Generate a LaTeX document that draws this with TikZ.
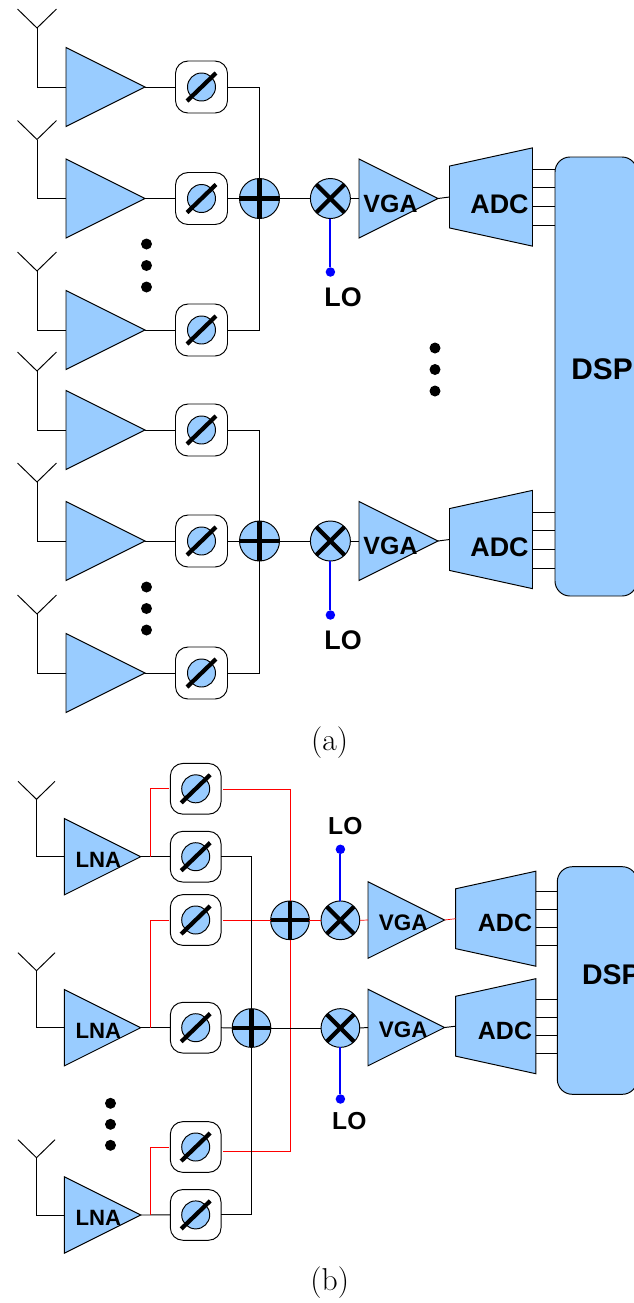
\documentclass[tikz,border=0pt]{standalone}
\usepackage{fontspec}
\usepackage{tikz}
\usetikzlibrary{shapes.geometric}
\newfontfamily\blockfont{Liberation Sans}
\definecolor{blockblue}{HTML}{99CCFF}
\def\u{0.02cm}
\tikzset{
  wire/.style={line width=0.55pt, black},
  redwire/.style={line width=0.4pt, red},
  lowire/.style={line width=1.1pt, blue},
  amp/.style={draw, fill=blockblue, isosceles triangle, isosceles triangle stretches,
    minimum size=#1*\u, inner sep=0pt, outer sep=0pt, line width=0.55pt},
  adc/.style={draw, fill=blockblue, trapezium, trapezium stretches, trapezium angle=73.6,
    shape border rotate=90, minimum height=#1*\u, minimum width=1.184*#1*\u,
    inner sep=1pt, outer sep=0pt, line width=0.55pt},
  shifter/.style={draw, fill=white, rounded corners=0.25cm, minimum size=#1*\u, inner sep=0pt,
    outer sep=0pt, line width=0.55pt, path picture={
      \draw[line width=0.55pt, fill=blockblue] (path picture bounding box.center) circle (14);
      \draw[line width=2.4pt] ([shift={(-14.5,14)}]path picture bounding box.center)
        -- ([shift={(14.5,-14)}]path picture bounding box.center);
    }},
  adder/.style={draw, fill=blockblue, circle, minimum size=#1*\u, inner sep=0pt, outer sep=0pt,
    line width=0.55pt, path picture={
      \draw[line width=2.4pt] (path picture bounding box.north) -- (path picture bounding box.south);
      \draw[line width=2.4pt] (path picture bounding box.west) -- (path picture bounding box.east);
    }},
  mixer/.style={draw, fill=blockblue, circle, minimum size=#1*\u, inner sep=0pt, outer sep=0pt,
    line width=0.55pt, path picture={
      \draw[line width=2.4pt] (path picture bounding box.north west) -- (path picture bounding box.south east);
      \draw[line width=2.4pt] (path picture bounding box.north east) -- (path picture bounding box.south west);
    }},
  dsp/.style={draw, fill=blockblue, rounded corners=0.3cm, inner sep=0pt, outer sep=0pt,
    line width=0.55pt, anchor=north west, minimum width=82*\u},
  blocklabel/.style={font=\blockfont\bfseries\fontsize{#1}{#1}\selectfont, inner sep=0pt},
  blackdot/.style={fill=black, circle, minimum size=11*\u, inner sep=0pt},
  lodot/.style={fill=blue, circle, minimum size=9.5*\u, inner sep=0pt},
  caption/.style={font=\fontsize{18}{20}\selectfont, inner sep=0pt}
}
\begin{document}
\begin{tikzpicture}[x=\u, y=-\u]
    \useasboundingbox (0,0) rectangle (633,1303);
    % part (a)
    \foreach \r/\y in {1/87,2/198.5,3/330,4/430,5/541,6/673}
    {
      \coordinate (anta\r) at (37,\y-59);
      \coordinate (tipla\r) at (17.5,\y-78);
      \coordinate (tipra\r) at (56.5,\y-78);
      \node[amp=79, anchor=west] (ampa\r) at (66,\y) {};
      \node[shifter=52] (shifta\r) at (201.5,\y) {};
      \draw[wire] (tipla\r) -- (anta\r) -- (tipra\r);
      \draw[wire] (anta\r) |- (ampa\r.west);
      \draw[wire] (ampa\r.apex) -- (shifta\r.west);
    }
    \foreach \c/\y/\o/\m/\t/\d in {1/198.5/2/1/3/272,2/541/5/4/6/615}
    {
      \node[adder=40] (adda\c) at (259.5,\y) {};
      \node[mixer=40] (mixa\c) at (330.4,\y) {};
      \node[amp=79, anchor=west] (vgaa\c) at (359,\y) {};
      \node[adc=83] (adca\c) at (491,\y-1.5) {};
      \draw[wire] (shifta\o.east) -- (adda\c.west);
      \draw[wire] (shifta\m.east) -| (adda\c.north);
      \draw[wire] (shifta\t.east) -| (adda\c.south);
      \draw[wire] (adda\c.east) -- (mixa\c.west);
      \draw[wire] (mixa\c.east) -- (vgaa\c.west);
      \draw[wire] (vgaa\c.apex) -- (adca\c.west);
      \node[lodot] (lodota\c) at (330.4,\d) {};
      \draw[lowire] (mixa\c.south) -- (lodota\c);
      \node[blocklabel=15.3] (loa\c) at (343,\d+25.5) {LO};
      \node[blocklabel=14.2] (vgatxta\c) at (390.5,\y+5) {VGA};
      \node[blocklabel=15.3] (adctxta\c) at (499.5,\y+6) {ADC};
    }
    \node[dsp, minimum height=439*\u] (dspa) at (555,157) {};
    \node[blocklabel=17, anchor=west] (dsptxta) at (571,369) {DSP};
    \foreach \c/\y in {1/169,1/187.7,1/206.3,1/225,2/512,2/530.5,2/549,2/568}
    {
      \coordinate (outa) at (532,\y);
      \draw[wire] (outa) -- (outa -| dspa.west);
    }
    \foreach \x/\y [count=\s] in {146.5/244,146.5/265.5,146.5/287,146.5/587,146.5/608.5,146.5/630,435/348,435/369.5,435/391}
      \node[blackdot] (dota\s) at (\x,\y) {};
    \node[caption] (capa) at (329.7,742.5) {(a)};
    % part (b)
    \foreach \r/\y/\a in {1/856.7/799.3,2/1027.7/970.7,3/1215/1157.7}
    {
      \coordinate (antb\r) at (36.5,\a);
      \coordinate (tiplb\r) at (18,\a-18);
      \coordinate (tiprb\r) at (55,\a-18);
      \node[amp=76.4, anchor=west] (ampb\r) at (64.3,\y) {};
      \draw[wire] (tiplb\r) -- (antb\r) -- (tiprb\r);
      \draw[wire] (antb\r) |- (ampb\r.west);
      \coordinate (tapb\r) at (150,\y);
      \node[blocklabel=12.6] (lnatxt\r) at (98.3,\y+2.7) {LNA};
    }
    \foreach \s/\y in {1/788.8,2/856.7,3/920,4/1027.7,5/1147,6/1214.9}
      \node[shifter=50.7] (shiftb\s) at (195.7,\y) {};
    \draw[wire] (ampb1.apex) -- (shiftb2.west);
    \draw[wire] (ampb2.apex) -- (shiftb4.west);
    \draw[wire] (ampb3.apex) -- (shiftb6.west);
    \node[adder=38.7] (addb1) at (290,920.3) {};
    \node[adder=38.7] (addb2) at (251.5,1028) {};
    \node[mixer=38.7] (mixb1) at (340.4,920.3) {};
    \node[mixer=38.7] (mixb2) at (340.4,1028) {};
    \coordinate (redina) at (169,788.8);
    \coordinate (redinb) at (169,920.3);
    \coordinate (redinc) at (169,1147);
    \coordinate (redouta) at (223,789);
    \coordinate (redoutb) at (223,920.3);
    \coordinate (redoutc) at (223,1151);
    \draw[redwire] (tapb1) |- (redina);
    \draw[redwire] (tapb2) |- (redinb);
    \draw[redwire] (tapb3) |- (redinc);
    \draw[redwire] (redouta) -| (addb1.north);
    \draw[redwire] (redoutc) -| (addb1.south);
    \draw[redwire] (redoutb) -- (addb1.west);
    \draw[redwire] (addb1.east) -- (mixb1.west);
    \draw[wire] (shiftb2.east) -| (addb2.north);
    \draw[wire] (shiftb6.east) -| (addb2.south);
    \draw[wire] (shiftb4.east) -- (addb2.west);
    \draw[wire] (addb2.east) -- (mixb2.west);
    \foreach \c/\y/\w in {1/920/redwire,2/1027.5/wire}
    {
      \node[amp=76.6, anchor=west] (vgab\c) at (368,\y) {};
      \node[adc=80.3] (adcb\c) at (495.8,\y-1.3) {};
      \draw[\w] (mixb\c.east) -- (vgab\c.west);
      \draw[\w] (vgab\c.apex) -- (adcb\c.west);
      \node[blocklabel=12.8] (vgatxtb\c) at (403.3,\y+2.6) {VGA};
      \node[blocklabel=14.2] (adctxtb\c) at (505,\y+3.3) {ADC};
    }
    \node[lodot] (lodotb1) at (340.4,849.3) {};
    \node[lodot] (lodotb2) at (340.4,1099) {};
    \draw[lowire] (mixb1.north) -- (lodotb1);
    \draw[lowire] (mixb2.south) -- (lodotb2);
    \node[blocklabel=14] (lob1) at (345.3,826) {LO};
    \node[blocklabel=14] (lob2) at (349.3,1120.7) {LO};
    \node[dsp, minimum height=227.6*\u, minimum width=80*\u] (dspb) at (557.3,866.7) {};
    \node[blocklabel=16.2, anchor=west] (dsptxtb) at (581.7,975) {DSP};
    \foreach \y in {891.7,909.7,927.7,945.7,999.3,1017.3,1035.3,1053.3}
    {
      \coordinate (outb) at (536,\y);
      \draw[wire] (outb) -- (outb -| dspb.west);
    }
    \foreach \y [count=\s] in {1103.3,1124.3,1145.3}
      \node[blackdot] (dotb\s) at (110.5,\y) {};
    \node[caption] (capb) at (329.7,1283) {(b)};
\end{tikzpicture}
\end{document}
